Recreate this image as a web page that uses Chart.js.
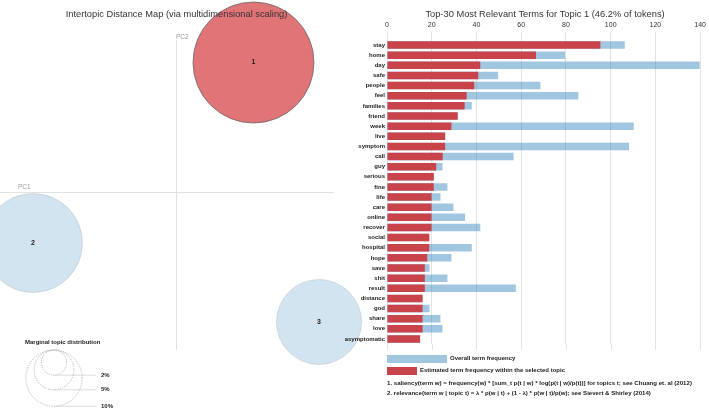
<!DOCTYPE html>
<html>
<head>
<meta charset="utf-8">
<script src="https://cdn.jsdelivr.net/npm/chart.js@4.4.1/dist/chart.umd.min.js"></script>
<style>
  html, body { margin: 0; padding: 0; background: #fff; }
  #wrap { position: relative; width: 709px; height: 408px; overflow: hidden; }
  #wrap canvas { position: absolute; left: 0; top: 0; }
</style>
</head>
<body>
<div id="wrap">
  <canvas id="mdsChart" width="709" height="408"></canvas>
  <canvas id="termChart" width="709" height="408"></canvas>
</div>
<script>
// intertopic distance map
const topicIds = ["1", "2", "3"];
const topicPC1 = [0.155, -0.286, 0.286];
const topicPC2 = [0.259, -0.102, -0.26];
const topicShare = [46.2, 30.9, 22.9]; // % of tokens
const legendShares = [2, 5, 10];

// top-30 terms for topic 1
const terms = ["stay", "home", "day", "safe", "people", "feel", "families", "friend", "week", "live",
    "symptom", "call", "guy", "serious", "fine", "life", "care", "online", "recover", "social",
    "hospital", "hope", "save", "shit", "result", "distance", "god", "share", "love", "asymptomatic"];
const topicFreq = [95.4, 66.6, 41.7, 40.8, 39.0, 35.6, 34.7, 31.6, 28.8, 26.0,
    26.0, 24.9, 22.0, 20.9, 20.9, 19.9, 19.9, 19.9, 19.9, 18.9,
    18.9, 18.0, 16.9, 16.9, 16.9, 15.9, 15.9, 15.9, 15.9, 14.8];
const overallFreq = [106.3, 79.6, 139.8, 49.7, 68.6, 85.5, 37.9, 31.6, 110.3, 26.0,
    108.2, 56.6, 24.8, 20.9, 27.0, 23.9, 29.7, 34.9, 41.7, 18.9,
    37.9, 28.8, 19.0, 27.0, 57.6, 15.9, 19.0, 23.9, 24.8, 14.8];
const freqMax = 140;
const freqStep = 20;

const FONT = "'Liberation Sans', Arial, sans-serif";
Chart.defaults.font.family = FONT;

const RED = "#c9434b";
const BLUE = "rgba(31,119,180,0.42)";
const maxShare = Math.max(...topicShare);
const radiusFor = (share) => 60.5 * Math.sqrt(share / maxShare);

const mdsDecor = {
    id: "mdsDecor",
    beforeDatasetsDraw(chart) {
        const { ctx, scales: { x, y } } = chart;
        ctx.save();
        ctx.strokeStyle = "#e2e2e2";
        ctx.lineWidth = 1;
        ctx.beginPath();
        ctx.moveTo(x.getPixelForValue(-0.352), Math.round(y.getPixelForValue(0)) + 0.5);
        ctx.lineTo(x.getPixelForValue(0.316), Math.round(y.getPixelForValue(0)) + 0.5);
        ctx.moveTo(Math.round(x.getPixelForValue(0)) + 0.5, y.getPixelForValue(0.304));
        ctx.lineTo(Math.round(x.getPixelForValue(0)) + 0.5, y.getPixelForValue(-0.316));
        ctx.stroke();
        ctx.fillStyle = "#9a9a9a";
        ctx.font = "6.5px " + FONT;
        ctx.textBaseline = "middle";
        ctx.fillText("PC1", 18, 187);
        ctx.fillText("PC2", x.getPixelForValue(0), 37);
        ctx.restore();
    },
    afterDatasetsDraw(chart) {
        const { ctx } = chart;
        const meta = chart.getDatasetMeta(0);
        ctx.save();
        ctx.textAlign = "center";
        ctx.textBaseline = "middle";
        ctx.fillStyle = "#222";
        ctx.font = "bold 7px " + FONT;
        meta.data.forEach((pt, i) => ctx.fillText(topicIds[i], pt.x, pt.y));

        ctx.fillStyle = "#333";
        ctx.font = "9.3px " + FONT;
        ctx.fillText("Intertopic Distance Map (via multidimensional scaling)", 176.5, 14.5);

        // marginal topic distribution legend
        ctx.font = "bold 6px " + FONT;
        ctx.fillStyle = "#222";
        ctx.textAlign = "left";
        ctx.fillText("Marginal topic distribution", 25, 342);
        const cx = 54, top = 350;
        legendShares.forEach((s) => {
            const r = radiusFor(s);
            ctx.strokeStyle = "#a8a8a8";
            ctx.lineWidth = 0.8;
            ctx.setLineDash([1.2, 1.2]);
            ctx.beginPath();
            ctx.arc(cx, top + r, r, 0, Math.PI * 2);
            ctx.stroke();
            ctx.setLineDash([]);
            ctx.strokeStyle = "#d4d4d4";
            ctx.beginPath();
            ctx.moveTo(cx, top + 2 * r);
            ctx.lineTo(96, top + 2 * r);
            ctx.stroke();
            ctx.fillText(s + "%", 101, top + 2 * r);
        });
        ctx.restore();
    }
};

new Chart(document.getElementById("mdsChart"), {
    type: "bubble",
    data: {
        datasets: [{
            data: topicIds.map((id, i) => ({ x: topicPC1[i], y: topicPC2[i], r: radiusFor(topicShare[i]) })),
            backgroundColor: topicIds.map((id, i) => i === 0 ? "rgba(205,30,35,0.62)" : "rgba(31,119,180,0.2)"),
            borderColor: topicIds.map((id, i) => i === 0 ? "#6a6a6a" : "rgba(0,0,0,0.12)"),
            borderWidth: 0.8,
            hoverRadius: 0,
            clip: false
        }]
    },
    options: {
        responsive: false,
        animation: false,
        layout: { autoPadding: false, padding: { left: 0, right: 329, top: 0, bottom: 0 } },
        scales: {
            x: { type: "linear", display: false, min: -0.352, max: 0.408 },
            y: { type: "linear", display: false, min: -0.432, max: 0.384 }
        },
        plugins: { legend: { display: false }, tooltip: { enabled: false } }
    },
    plugins: [mdsDecor]
});

const termDecor = {
    id: "termDecor",
    beforeDatasetsDraw(chart) {
        const { ctx, chartArea, scales: { x } } = chart;
        ctx.save();
        ctx.strokeStyle = "#e3e3e3";
        ctx.lineWidth = 1;
        x.ticks.forEach((t) => {
            const px = Math.round(x.getPixelForValue(t.value)) + 0.5;
            ctx.beginPath();
            ctx.moveTo(px, chartArea.bottom);
            ctx.lineTo(px, 350);
            ctx.stroke();
        });
        ctx.restore();
    },
    afterDraw(chart) {
        const { ctx } = chart;
        ctx.save();
        ctx.textBaseline = "middle";
        ctx.textAlign = "center";
        ctx.fillStyle = "#333";
        ctx.font = "9.3px " + FONT;
        ctx.fillText("Top-30 Most Relevant Terms for Topic 1 (46.2% of tokens)", 545, 14.5);

        ctx.textAlign = "left";
        ctx.fillStyle = BLUE;
        ctx.fillRect(387, 355, 60, 8);
        ctx.fillStyle = RED;
        ctx.fillRect(387, 367, 30, 8);
        ctx.fillStyle = "#222";
        ctx.font = "bold 6px " + FONT;
        ctx.fillText("Overall term frequency", 450, 358);
        ctx.fillText("Estimated term frequency within the selected topic", 420, 370);
        ctx.font = "bold 6.1px " + FONT;
        ctx.fillText("1. saliency(term w) = frequency(w) * [sum_t p(t | w) * log(p(t | w)/p(t))] for topics t; see Chuang et. al (2012)", 387, 383);
        ctx.fillText("2. relevance(term w | topic t) = \u03bb * p(w | t) + (1 - \u03bb) * p(w | t)/p(w); see Sievert & Shirley (2014)", 387, 393);
        ctx.restore();
    }
};

new Chart(document.getElementById("termChart"), {
    type: "bar",
    data: {
        labels: terms,
        datasets: [
            {
                label: "Estimated term frequency within the selected topic",
                data: topicFreq,
                backgroundColor: RED,
                grouped: false,
                barPercentage: 0.74,
                categoryPercentage: 1
            },
            {
                label: "Overall term frequency",
                data: overallFreq,
                backgroundColor: BLUE,
                grouped: false,
                barPercentage: 0.74,
                categoryPercentage: 1
            }
        ]
    },
    options: {
        indexAxis: "y",
        responsive: false,
        animation: false,
        layout: { padding: { left: 0, right: 8, top: 0, bottom: 64 } },
        scales: {
            x: {
                position: "top",
                min: 0,
                max: freqMax,
                ticks: { stepSize: freqStep, color: "#333", font: { size: 7 }, padding: 3 },
                grid: { color: "#e3e3e3", tickLength: 8 },
                border: { display: false },
                afterFit: (s) => { s.height = 40; }
            },
            y: {
                ticks: { color: "#222", font: { size: 6, weight: "bold" }, padding: 2, autoSkip: false },
                grid: { display: false, drawTicks: false },
                border: { display: false },
                afterFit: (s) => { s.width = 387; }
            }
        },
        plugins: { legend: { display: false }, tooltip: { enabled: false } }
    },
    plugins: [termDecor]
});
</script>
</body>
</html>
